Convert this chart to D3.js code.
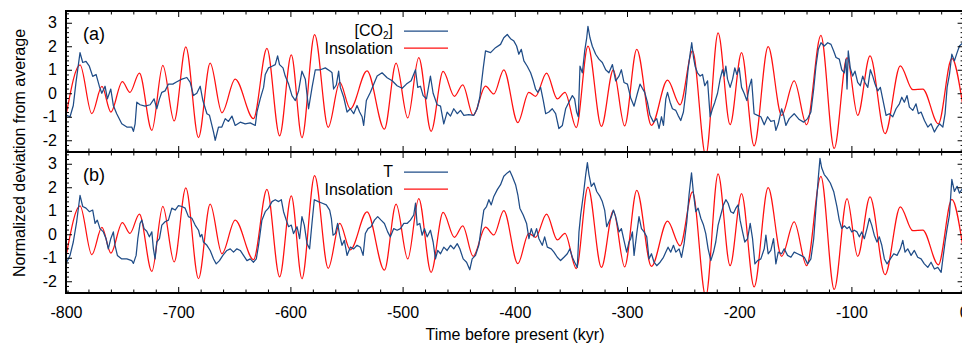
<!DOCTYPE html>
<html>
<head>
<meta charset="utf-8">
<script src="https://cdn.jsdelivr.net/npm/d3@7/dist/d3.min.js"></script>
<style>
  body { margin: 0; background: #fff; }
  svg { display: block; font-family: "Liberation Sans", Arial, Helvetica, sans-serif; }
</style>
</head>
<body>
<svg id="chart" width="962" height="347"></svg>
<script>
// time before present (kyr) and normalized deviation
const insolation = [[-799.4,-0.80],[-787.5,1.21],[-777,-0.87],[-768,0.29],[-760,-0.80],[-749.8,0.50],[-743,0.04],[-734.6,0.86],[-723.5,-1.58],[-713.7,1.19],[-703.6,-1.18],[-693.2,1.97],[-681.9,-1.89],[-671.5,1.28],[-661,-0.83],[-649.2,0.60],[-632.9,-1.08],[-620.9,1.91],[-609.6,-1.81],[-599.2,1.63],[-589.7,-1.89],[-578.4,2.49],[-566.3,-1.45],[-556,0.46],[-546.6,-0.66],[-531.7,0.95],[-516.2,-1.53],[-505.8,1.28],[-495.4,-1.05],[-485.6,1.52],[-474.6,-1.62],[-463.9,0.93],[-453.8,-0.13],[-446.4,0.36],[-437.1,-0.94],[-426.1,0.30],[-418.7,-0.03],[-409.8,1.0],[-397.3,-1.25],[-387.5,0.04],[-381.5,-0.13],[-371.7,0.86],[-362.1,-0.24],[-355.3,0.04],[-345.2,-1.46],[-334.8,2.01],[-322.8,-1.41],[-312.2,1.0],[-302.1,-1.39],[-291.3,1.87],[-278.2,-1.37],[-263.9,0.56],[-252.7,-0.49],[-241.6,1.80],[-229.8,-2.65],[-218.8,2.57],[-208.1,-1.34],[-197.9,1.73],[-186.7,-2.24],[-174.2,1.98],[-162.2,-0.94],[-151,0.53],[-139.9,-1.34],[-127.2,2.46],[-115.3,-2.35],[-103.9,1.52],[-94.4,-0.94],[-83.4,1.59],[-70.0,-1.72],[-56.4,1.17],[-45.3,0.15],[-36.4,0.18],[-22.5,-1.30],[-10.5,1.48],[-0.7,-0.52]];

const co2 = [[-799.4,-0.94],[-796.4,-1.0],[-793.5,-0.52],[-791.1,0.46],[-787.5,1.73],[-785.1,1.31],[-782.2,1.36],[-779.2,1.15],[-776.2,0.72],[-773.2,0.8],[-770.3,0.30],[-768.1,0.0],[-765.2,0.3],[-763.1,-0.24],[-760.1,0.18],[-757.8,-0.52],[-754.8,-0.87],[-750.3,-1.3],[-745.8,-1.44],[-741.4,-1.44],[-739.9,-1.62],[-738.4,-1.3],[-736.9,-0.38],[-734.0,-0.49],[-729.5,-0.55],[-725.0,-0.49],[-721.5,-0.24],[-719.1,-0.66],[-716.7,-0.24],[-714.6,0.04],[-711.7,0.1],[-708.7,0.39],[-704.8,0.39],[-701.2,0.49],[-696.7,0.6],[-692.3,0.67],[-689.3,0.46],[-686.4,-0.1],[-683.4,0.0],[-680.4,0.3],[-678.0,-0.31],[-674.4,-0.87],[-672.1,-0.94],[-668.5,-1.65],[-667.0,-2.0],[-664.1,-1.44],[-661.1,-1.44],[-658.1,-1.08],[-655.2,-1.2],[-652.1,-0.97],[-649.2,-1.37],[-644.7,-1.23],[-640.3,-1.3],[-635.8,-1.26],[-631.3,-1.37],[-629.8,-0.8],[-626.9,-0.24],[-623.9,0.25],[-622.4,0.8],[-619.5,1.08],[-616.4,1.15],[-613.5,1.22],[-611.4,1.59],[-609.7,1.22],[-606.6,1.08],[-604.6,0.73],[-601.6,0.39],[-598.6,-0.1],[-595.6,-0.31],[-592.7,0.1],[-589.7,0.94],[-586.7,0.6],[-583.8,-0.66],[-580.7,0.25],[-577.8,1.0],[-573.3,1.0],[-568.9,1.08],[-564.4,0.94],[-562.9,0.87],[-561.5,0.18],[-559.1,0.35],[-557.0,0.94],[-555.5,0.25],[-552.5,-0.17],[-549.5,-0.8],[-546.6,-0.66],[-543.6,-0.87],[-540.6,-0.52],[-538.3,-0.8],[-536.1,-1.0],[-534.7,-1.37],[-532.3,-0.31],[-528.7,0.04],[-526.3,0.32],[-522.7,0.73],[-518.3,0.87],[-513.8,0.66],[-509.3,0.53],[-504.9,0.32],[-500.4,0.21],[-496.6,0.39],[-492.4,0.53],[-488.5,1.0],[-486.5,0.25],[-484.1,0.3],[-481.7,-0.1],[-478.7,-0.24],[-475.2,0.73],[-472.8,0.0],[-469.2,-0.49],[-466.2,-0.55],[-463.3,-1.3],[-460.3,-0.8],[-457.3,-0.97],[-454.4,-0.66],[-451.3,-0.87],[-448.4,-0.73],[-445.4,-0.94],[-441.0,-0.91],[-436.5,-0.94],[-433.5,-0.66],[-431.2,-0.17],[-428.1,1.08],[-426.1,1.8],[-421.6,1.73],[-417.2,1.94],[-412.7,2.08],[-409.8,2.36],[-406.7,2.5],[-403.8,2.32],[-400.8,2.22],[-398.4,2.01],[-396.4,1.66],[-394.2,1.87],[-391.9,1.38],[-388.9,1.15],[-385.9,0.87],[-383.5,0.53],[-381.5,0.18],[-379.4,0.04],[-377.0,0.25],[-374.6,-0.31],[-372.5,-0.87],[-369.6,-0.8],[-366.6,-0.66],[-363.6,-0.87],[-360.7,-1.5],[-357.6,-1.37],[-354.7,-0.66],[-351.8,-0.38],[-348.7,-0.1],[-346.7,-0.24],[-344.9,-0.8],[-343.4,-1.0],[-341.9,1.15],[-339.8,0.87],[-337.7,1.8],[-335.9,2.36],[-334.8,2.85],[-333.0,2.36],[-330.9,2.0],[-327.9,1.66],[-325.0,1.45],[-322.0,1.31],[-319.0,1.0],[-316.1,0.87],[-313.0,1.22],[-310.1,0.53],[-307.1,0.73],[-305.0,1.0],[-302.7,0.46],[-299.6,0.39],[-296.7,-0.2],[-293.7,-0.55],[-290.7,0.0],[-288.4,0.39],[-286.3,0.21],[-284.2,0.04],[-281.8,-0.38],[-279.5,-0.94],[-276.4,-1.23],[-273.5,-1.08],[-271.4,-1.5],[-269.3,-1.0],[-267.5,-1.37],[-265.4,-0.24],[-263.9,0.04],[-261.6,-0.38],[-259.5,-0.66],[-256.5,-0.73],[-254.5,-0.94],[-252.1,-1.16],[-249.7,-0.8],[-247.6,0.04],[-245.6,1.0],[-243.8,1.66],[-242.3,2.15],[-240.7,1.52],[-239.3,1.15],[-237.2,0.87],[-234.8,0.73],[-232.7,0.8],[-230.7,0.32],[-228.2,0.53],[-225.9,-1.0],[-223.8,-0.66],[-221.7,-0.38],[-219.3,0.0],[-217.0,0.6],[-214.9,1.0],[-213.4,0.73],[-211.9,1.15],[-210.4,0.6],[-208.1,0.25],[-205.9,0.6],[-203.9,1.08],[-202.1,0.8],[-200.0,1.08],[-197.9,0.25],[-195.6,0.0],[-193.2,-0.31],[-191.1,0.25],[-189.0,0.6],[-186.7,-0.87],[-183.6,-0.94],[-180.7,-1.0],[-177.7,-1.34],[-174.7,-1.0],[-171.8,-1.2],[-168.8,-1.16],[-167.3,-1.58],[-165.2,-1.3],[-162.2,-0.66],[-160.4,-0.94],[-158.4,-1.37],[-155.4,-1.08],[-151.0,-0.87],[-146.5,-1.12],[-142.6,-1.23],[-139.0,-1.08],[-136.1,-0.8],[-133.6,0.18],[-131.6,1.15],[-129.5,1.87],[-127.1,2.15],[-124.2,2.01],[-121.1,2.15],[-118.2,2.08],[-115.8,1.8],[-113.7,1.52],[-110.8,1.45],[-108.6,1.0],[-106.3,0.87],[-104.8,1.45],[-103.9,0.18],[-102.8,1.8],[-101.0,1.08],[-98.9,0.73],[-96.8,0.94],[-94.4,0.46],[-92.1,0.32],[-89.9,0.73],[-87.9,0.46],[-85.4,0.25],[-83.1,1.0],[-81.0,0.73],[-78.9,0.39],[-76.5,0.1],[-74.2,0.25],[-72.1,-0.24],[-69.1,-0.94],[-66.2,-0.87],[-63.1,-1.0],[-60.2,-0.66],[-57.2,-0.45],[-55.1,-0.17],[-52.8,-0.38],[-50.4,-0.1],[-48.3,-0.59],[-45.3,-0.73],[-42.4,-0.45],[-40.3,-0.87],[-37.9,-0.8],[-34.9,-1.16],[-31.9,-1.44],[-29.0,-1.3],[-26.0,-1.65],[-23.6,-1.44],[-21.5,-1.3],[-18.5,-1.44],[-16.5,-0.87],[-14.7,0.25],[-12.6,0.8],[-10.5,1.66],[-8.2,1.38],[-5.8,1.73],[-3.7,2.01],[-0.7,2.15]];

const temperature = [[-799.4,-1.19],[-796.4,-0.9],[-793.5,-0.33],[-790.5,0.53],[-787.5,1.65],[-785.1,1.18],[-782.2,1.11],[-779.2,0.96],[-776.2,1.03],[-774.1,0.46],[-772.1,0.6],[-769.7,0.24],[-766.7,0.1],[-764.3,-0.19],[-762.3,-0.62],[-760.1,-0.19],[-757.8,0.1],[-756.3,-0.47],[-754.2,-0.9],[-750.3,-1.05],[-745.8,-1.05],[-741.4,-1.12],[-739.9,-1.24],[-737.5,-0.9],[-736.0,-0.19],[-734.0,0.46],[-732.4,0.6],[-730.4,0.24],[-728.0,0.13],[-725.7,-0.11],[-723.5,0.1],[-722.1,-0.62],[-720.6,-1.05],[-719.1,-0.33],[-716.7,-0.19],[-714.6,0.39],[-711.7,0.53],[-708.7,0.6],[-705.7,1.11],[-702.7,1.03],[-699.8,1.22],[-696.7,1.18],[-693.8,1.11],[-690.9,0.75],[-687.8,0.68],[-684.9,0.39],[-681.9,0.17],[-680.4,-0.11],[-678.9,-0.01],[-677.5,-0.33],[-674.4,-0.47],[-671.5,-0.69],[-668.5,-1.05],[-666.1,-1.26],[-663.2,-1.12],[-660.2,-0.9],[-656.6,-0.69],[-653.6,-0.62],[-650.7,-0.76],[-647.7,-0.62],[-644.7,-0.69],[-641.8,-0.9],[-638.7,-1.12],[-635.8,-1.05],[-632.9,-1.19],[-630.4,-1.05],[-628.4,-0.47],[-625.4,0.6],[-622.4,0.96],[-619.5,1.11],[-616.4,1.39],[-613.5,1.47],[-610.5,1.39],[-608.1,1.47],[-606.1,0.96],[-603.7,0.6],[-601.6,0.32],[-599.2,0.39],[-597.2,0.03],[-594.1,0.32],[-591.8,-0.19],[-589.7,0.75],[-587.6,0.39],[-585.2,-0.4],[-582.9,-0.62],[-580.7,0.5],[-578.7,1.47],[-575.1,1.39],[-571.5,1.32],[-568.0,1.25],[-565.0,1.03],[-563.5,0.68],[-562.0,-0.04],[-560.0,0.03],[-557.9,0.46],[-556.1,-0.04],[-554.0,-0.47],[-551.9,-0.26],[-549.5,-0.9],[-546.6,-0.55],[-543.6,-0.62],[-540.6,-0.47],[-537.6,-0.55],[-535.2,-0.9],[-533.2,0.03],[-530.8,0.24],[-528.1,0.32],[-525.1,0.6],[-522.2,0.75],[-519.2,0.6],[-516.2,0.46],[-513.3,0.1],[-510.9,-0.11],[-507.9,0.24],[-504.9,0.17],[-501.9,0.24],[-498.9,0.46],[-496.0,0.46],[-493.0,0.6],[-490.1,0.82],[-488.5,1.32],[-487.0,0.39],[-484.7,0.46],[-482.6,-0.04],[-480.5,0.24],[-478.1,-0.11],[-475.2,0.17],[-472.8,-0.33],[-470.7,-1.05],[-468.7,-0.69],[-466.2,-0.83],[-463.3,-0.55],[-460.3,-0.69],[-457.3,-0.47],[-454.4,-0.62],[-451.3,-0.4],[-449.0,-0.62],[-446.0,-1.05],[-443.0,-1.19],[-440.1,-1.51],[-438.0,-1.05],[-435.0,-0.9],[-432.1,-0.47],[-430.0,0.24],[-427.6,1.03],[-425.2,1.18],[-423.1,1.47],[-421.0,1.25],[-418.7,1.61],[-415.6,1.9],[-412.7,2.11],[-409.8,2.47],[-406.7,2.61],[-404.4,2.69],[-402.3,2.47],[-399.3,2.11],[-397.3,1.68],[-395.5,1.11],[-392.5,0.82],[-389.5,0.46],[-387.4,-0.19],[-385.3,0.24],[-383.0,-0.11],[-380.6,0.24],[-378.5,-0.19],[-375.5,-0.47],[-373.4,-0.11],[-371.0,-0.55],[-367.5,-0.62],[-365.1,-0.76],[-362.1,-0.98],[-359.2,-1.12],[-356.2,-0.98],[-353.2,-0.83],[-350.9,-0.62],[-348.7,-0.98],[-346.7,-1.19],[-344.3,-1.41],[-342.8,0.1],[-341.3,0.82],[-338.9,1.68],[-336.8,2.54],[-335.3,3.05],[-333.9,2.54],[-331.8,2.04],[-329.4,2.18],[-327.0,1.82],[-324.1,1.61],[-322.0,1.39],[-319.9,1.03],[-318.1,0.32],[-316.1,0.53],[-313.9,0.75],[-312.1,1.03],[-310.1,0.75],[-307.1,0.1],[-305.0,0.24],[-302.7,-0.26],[-300.3,-0.76],[-298.2,-0.33],[-296.7,-0.19],[-295.2,0.1],[-293.7,-0.9],[-291.3,0.03],[-289.3,0.75],[-287.1,0.24],[-284.8,0.1],[-282.4,-0.11],[-280.4,-1.05],[-278.2,-0.83],[-275.9,-1.19],[-273.5,-1.34],[-270.5,-1.19],[-267.5,-0.98],[-265.4,-0.76],[-263.4,-0.55],[-261.0,-0.76],[-258.6,-0.47],[-256.5,-0.76],[-253.6,-0.62],[-251.4,-0.98],[-249.1,-0.4],[-246.7,0.53],[-244.7,1.68],[-242.5,2.61],[-240.8,1.75],[-238.7,0.96],[-236.6,1.11],[-234.2,0.68],[-231.8,0.39],[-229.8,0.03],[-227.7,-0.62],[-225.3,-1.12],[-222.9,-0.76],[-220.9,-0.33],[-218.8,0.39],[-216.4,0.82],[-214.0,1.25],[-211.9,1.47],[-209.9,1.32],[-207.5,0.96],[-205.1,0.89],[-203.0,1.11],[-201.0,1.25],[-199.2,0.6],[-197.0,0.1],[-195.0,-0.33],[-192.5,-0.19],[-190.2,0.46],[-188.1,-0.19],[-186.0,-1.26],[-183.6,-1.12],[-180.7,-1.05],[-177.7,-0.62],[-176.2,-0.04],[-174.2,-0.83],[-171.8,-0.69],[-169.4,-0.19],[-167.3,-1.26],[-165.2,-0.76],[-162.2,-0.83],[-159.9,-0.62],[-156.9,-0.9],[-153.9,-0.98],[-151.0,-0.76],[-148.0,-0.83],[-145.0,-0.9],[-142.0,-0.98],[-139.0,-1.26],[-136.1,-1.05],[-133.6,-0.19],[-131.6,1.11],[-129.5,2.4],[-128.0,3.23],[-126.5,2.83],[-124.2,2.54],[-121.8,2.4],[-118.8,2.18],[-115.8,1.82],[-112.9,1.18],[-110.8,0.6],[-108.6,0.24],[-106.3,0.36],[-103.9,0.24],[-101.9,0.32],[-99.7,0.1],[-97.4,0.17],[-95.0,0.1],[-92.9,-0.11],[-90.8,0.1],[-88.5,-0.19],[-86.1,0.24],[-84.0,0.68],[-81.9,0.39],[-79.6,-0.04],[-77.2,-0.33],[-75.1,-0.11],[-72.9,-0.47],[-70.6,-1.05],[-68.2,-1.26],[-65.3,-1.05],[-62.2,-0.83],[-59.3,-0.9],[-56.4,-0.62],[-54.2,-0.26],[-52.2,-0.76],[-49.8,-0.62],[-46.8,-0.9],[-43.9,-0.69],[-40.9,-0.98],[-37.9,-1.05],[-35.0,-1.26],[-31.9,-1.41],[-29.0,-1.19],[-26.0,-1.48],[-23.0,-1.41],[-20.0,-1.62],[-18.5,-1.05],[-16.5,-0.33],[-14.7,0.24],[-12.6,0.82],[-10.5,2.33],[-8.2,1.82],[-5.8,2.04],[-3.7,1.75],[-0.7,1.97]];

const xMajorTicks = [-800, -700, -600, -500, -400, -300, -200, -100, 0];
const yMajorTicks = [-2, -1, 0, 1, 2, 3];
const panelLabels = ["(a)", "(b)"];
const seriesNames = ["CO2", "T"];
const insolationName = "Insolation";
const xTitle = "Time before present (kyr)";
const yTitle = "Normalized deviation from average";

const blue = "#1f4c87", red = "#ff1010";
const svg = d3.select("#chart");
const left = 66, right = 963.6;
const panelTops = [11, 152], panelH = 141;

const x = d3.scaleLinear().domain([-800, 0]).range([left, right]);
const xMinor = d3.range(-800, 1, 20).filter(v => v % 100 !== 0);
const yMinor = d3.range(-24, 35, 2).map(v => v / 10).filter(v => Math.abs(v % 1) > 1e-6);

const seriesData = [co2, temperature];

panelTops.forEach((top, i) => {
  const y = d3.scaleLinear().domain([-2.5, 3.5]).range([top + panelH, top]);
  const g = svg.append("g");

  const clipId = "clip" + i;
  svg.append("clipPath").attr("id", clipId)
    .append("rect").attr("x", left).attr("y", top).attr("width", right - left).attr("height", panelH);

  const plot = g.append("g").attr("clip-path", `url(#${clipId})`);
  plot.append("path").datum(insolation)
    .attr("d", d3.line().x(d => x(d[0])).y(d => y(d[1])).curve(d3.curveMonotoneX))
    .attr("fill", "none").attr("stroke", red).attr("stroke-width", 1.25);
  plot.append("path").datum(seriesData[i])
    .attr("d", d3.line().x(d => x(d[0])).y(d => y(d[1])))
    .attr("fill", "none").attr("stroke", blue).attr("stroke-width", 1.25)
    .attr("stroke-linejoin", "round");

  // axes with inward ticks
  const noLabel = () => "";
  g.append("g").attr("transform", `translate(${left},0)`)
    .call(d3.axisLeft(y).tickValues(yMajorTicks).tickSize(-6).tickPadding(9).tickFormat(d => String(d)));
  g.append("g").attr("transform", `translate(${left},0)`)
    .call(d3.axisLeft(y).tickValues(yMinor).tickSize(-3).tickFormat(noLabel));
  g.append("g").attr("transform", `translate(${right},0)`)
    .call(d3.axisRight(y).tickValues(yMajorTicks).tickSize(-6).tickFormat(noLabel));
  g.append("g").attr("transform", `translate(${right},0)`)
    .call(d3.axisRight(y).tickValues(yMinor).tickSize(-3).tickFormat(noLabel));
  g.append("g").attr("transform", `translate(0,${top})`)
    .call(d3.axisTop(x).tickValues(xMajorTicks).tickSize(-6).tickFormat(noLabel));
  g.append("g").attr("transform", `translate(0,${top})`)
    .call(d3.axisTop(x).tickValues(xMinor).tickSize(-3.5).tickFormat(noLabel));
  g.append("g").attr("transform", `translate(0,${top + panelH})`)
    .call(d3.axisBottom(x).tickValues(xMajorTicks).tickSize(-6).tickPadding(14)
      .tickFormat(i === 1 ? (d => String(d)) : noLabel));
  g.append("g").attr("transform", `translate(0,${top + panelH})`)
    .call(d3.axisBottom(x).tickValues(xMinor).tickSize(-3.5).tickFormat(noLabel));

  g.selectAll(".domain").remove();
  g.selectAll(".tick line").attr("stroke", "#000").attr("stroke-width", 1);
  g.selectAll(".tick text").attr("font-size", 16).attr("fill", "#000")
    .attr("font-family", "Liberation Sans, Arial, sans-serif");

  // frame
  g.append("rect").attr("x", left).attr("y", top).attr("width", right - left).attr("height", panelH)
    .attr("fill", "none").attr("stroke", "#000").attr("stroke-width", 2);

  // panel label
  g.append("text").attr("x", 83).attr("y", top + 29).attr("font-size", 18).text(panelLabels[i]);

  // legend
  const ly1 = top + 20, ly2 = top + 37;
  const t1 = g.append("text").attr("x", 393).attr("y", ly1 + 5).attr("text-anchor", "end").attr("font-size", 16);
  if (seriesNames[i] === "CO2") {
    t1.append("tspan").text("[CO");
    t1.append("tspan").attr("font-size", 10).attr("dy", 3).text("2");
    t1.append("tspan").attr("dy", -3).text("]");
  } else {
    t1.text(seriesNames[i]);
  }
  g.append("line").attr("x1", 404).attr("x2", 448).attr("y1", ly1).attr("y2", ly1)
    .attr("stroke", blue).attr("stroke-width", 1.25);
  g.append("text").attr("x", 393).attr("y", ly2 + 6).attr("text-anchor", "end").attr("font-size", 16)
    .text(insolationName);
  g.append("line").attr("x1", 404).attr("x2", 448).attr("y1", ly2).attr("y2", ly2)
    .attr("stroke", red).attr("stroke-width", 1.25);
});

svg.append("text").attr("x", 515).attr("y", 340).attr("text-anchor", "middle")
  .attr("font-size", 16).text(xTitle);
svg.append("text").attr("transform", "translate(25,153) rotate(-90)").attr("text-anchor", "middle")
  .attr("font-size", 16).text(yTitle);
</script>
</body>
</html>
